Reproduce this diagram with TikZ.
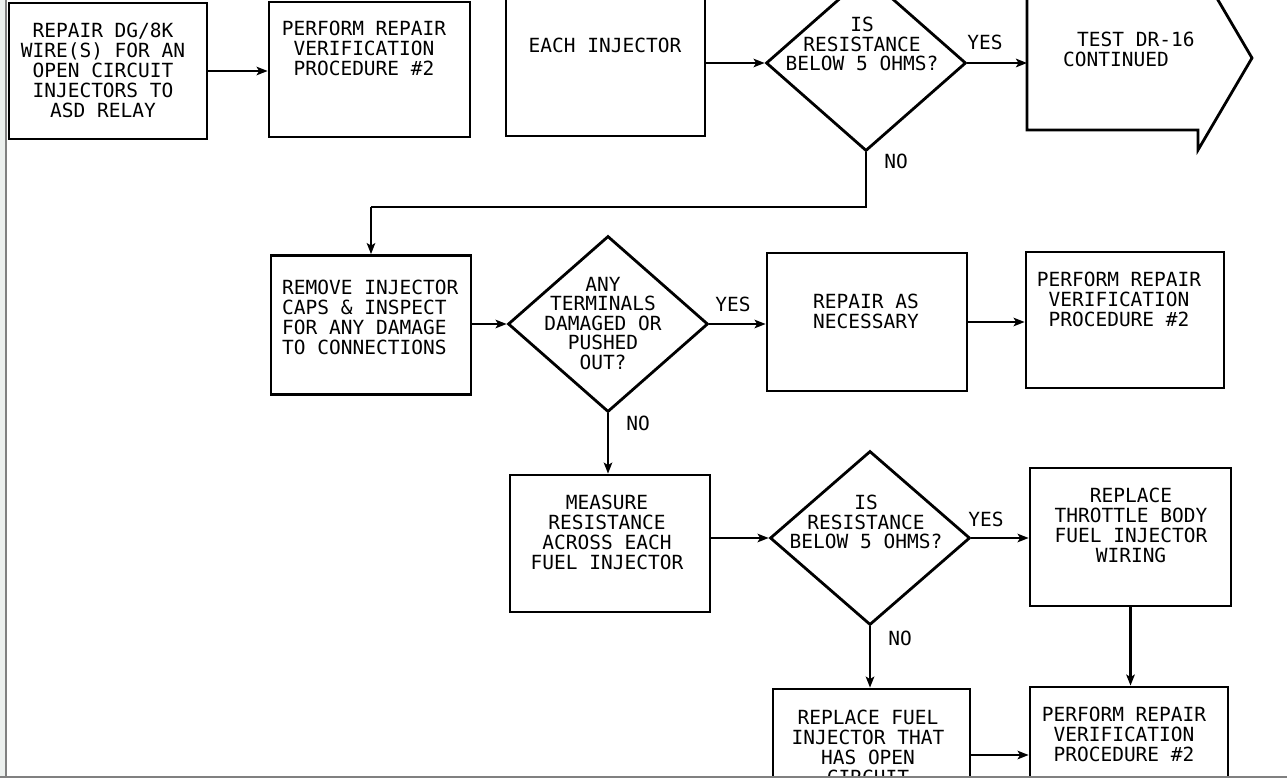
\documentclass[tikz,border=0pt]{standalone}
\usepackage{fontspec}
\newfontfamily\plotfont{DejaVu Sans Mono}
\usetikzlibrary{shapes.geometric,arrows.meta}
\definecolor{frameL}{RGB}{236,240,238}
\definecolor{frameD}{RGB}{128,128,128}
\tikzset{
  box/.style={draw, rectangle, line width=2.8pt, inner sep=0pt},
  dia/.style={draw, diamond, line width=2.8pt, inner sep=0pt, minimum width=200pt, minimum height=176pt},
  txt/.style={inner sep=0pt, font=\plotfont\fontsize{19.5}{20}\selectfont, align=center, anchor=north},
  dtxt/.style={inner sep=0pt, font=\plotfont\fontsize{19.5}{19.5}\selectfont, align=center, anchor=north},
  lbl/.style={inner sep=0pt, font=\plotfont\fontsize{19.5}{20}\selectfont},
  arr/.style={line width=2.6pt, -{Stealth[length=11pt,width=8.5pt,inset=2.5pt]}},
  ln/.style={line width=2.6pt}
}
\begin{document}
\begin{tikzpicture}[x=1pt,y=-1pt]
\useasboundingbox (0,0) rectangle (1287,778);
\clip (0,0) rectangle (1287,778);
\fill[white] (0,0) rectangle (1287,778);

% row 1
\node[box, minimum width=198pt, minimum height=136pt] (b1) at (108,71) {};
\node[txt] (t1) at (103,23) {REPAIR DG/8K\\WIRE(S) FOR AN\\OPEN CIRCUIT\\INJECTORS TO\\ASD RELAY};
\node[box, minimum width=201pt, minimum height=135pt] (b2) at (369.5,69.5) {};
\node[txt] (t2) at (364,21) {PERFORM REPAIR\\VERIFICATION\\PROCEDURE \#2};
\draw[arr] (b1.east) -- (b1.east -| b2.west);

\node[box, minimum width=199pt, minimum height=137pt] (b3) at (605.5,67.5) {};
\node[txt] (t3) at (605,38) {EACH INJECTOR};
\node[dia] (d1) at (866,63) {};
\node[dtxt] (td1) at (862,17) {IS\\RESISTANCE\\BELOW 5 OHMS?};
\draw[arr] (b3.east |- d1.west) -- (d1.west);

\draw[line width=2.8pt] (1027,-14) -- (1198,-14) -- (1198,-34) -- (1252,58) -- (1198,150) -- (1198,130) -- (1027,130) -- cycle;
\coordinate (tL) at (1027,63);
\node[inner sep=0pt, font=\plotfont\fontsize{19.5}{20}\selectfont, align=left, anchor=north west] (tt) at (1063,32) {\hspace*{14pt}TEST DR-16\\CONTINUED};
\draw[arr] (d1.east) -- (tL);
\node[lbl] (y1) at (985,42) {YES};
\node[lbl] (n1) at (896,161) {NO};

% row 2
\node[box, minimum width=200pt, minimum height=139pt] (b4) at (371,325) {};
\node[inner sep=0pt, font=\plotfont\fontsize{19.5}{20}\selectfont, align=left, anchor=north west] (t4) at (282,280) {REMOVE INJECTOR\\CAPS \& INSPECT\\FOR ANY DAMAGE\\TO CONNECTIONS};
\coordinate (h1) at (371,207);
\draw[ln] (d1.south) |- (h1);
\draw[arr] (h1) -- (b4.north);

\node[dia] (d2) at (608,324) {};
\node[dtxt] (td2) at (603,277) {ANY\\TERMINALS\\DAMAGED OR\\PUSHED\\OUT?};
\draw[arr] (b4.east |- d2.west) -- (d2.west);
\node[lbl] (y2) at (733,304) {YES};
\node[lbl] (n2) at (638,423) {NO};

\node[box, minimum width=200pt, minimum height=138pt] (b5) at (867,322) {};
\node[txt] (t5) at (866,294) {REPAIR AS\\NECESSARY};
\draw[arr] (d2.east) -- (d2.east -| b5.west);
\node[box, minimum width=198pt, minimum height=136pt] (b6) at (1125,320) {};
\node[txt] (t6) at (1119,272) {PERFORM REPAIR\\VERIFICATION\\PROCEDURE \#2};
\draw[arr] (b5.east) -- (b5.east -| b6.west);

% row 3
\node[box, minimum width=200pt, minimum height=137pt] (b7) at (610,543.5) {};
\node[txt] (t7) at (607,495) {MEASURE\\RESISTANCE\\ACROSS EACH\\FUEL INJECTOR};
\draw[arr] (d2.south) -- (d2.south |- b7.north);
\node[dia, minimum height=174pt] (d3) at (870,538) {};
\node[dtxt] (td3) at (866,495) {IS\\RESISTANCE\\BELOW 5 OHMS?};
\draw[arr] (b7.east |- d3.west) -- (d3.west);
\node[lbl] (y3) at (986,519) {YES};
\node[lbl] (n3) at (900,638) {NO};
\node[box, minimum width=201pt, minimum height=138pt] (b8) at (1130.5,537) {};
\node[txt] (t8) at (1131,488) {REPLACE\\THROTTLE BODY\\FUEL INJECTOR\\WIRING};
\draw[arr] (d3.east) -- (d3.east -| b8.west);

% row 4
\node[box, minimum width=198pt, minimum height=136pt] (b9) at (1129,755) {};
\node[txt] (t9) at (1124,707) {PERFORM REPAIR\\VERIFICATION\\PROCEDURE \#2};
\draw[arr] (b8.south) -- (b8.south |- b9.north);
\node[box, minimum width=197pt, minimum height=132pt] (b10) at (871.5,755) {};
\node[txt] (t10) at (868,710) {REPLACE FUEL\\INJECTOR THAT\\HAS OPEN\\CIRCUIT};
\draw[arr] (d3.south) -- (d3.south |- b10.north);
\draw[arr] (b10.east) -- (b10.east -| b9.west);

% window frame
\fill[frameL] (0,0) rectangle (5,778);
\fill[frameD] (5,0) rectangle (7.3,778);
\fill[frameD] (0,775.5) rectangle (1287,778);
\end{tikzpicture}
\end{document}
